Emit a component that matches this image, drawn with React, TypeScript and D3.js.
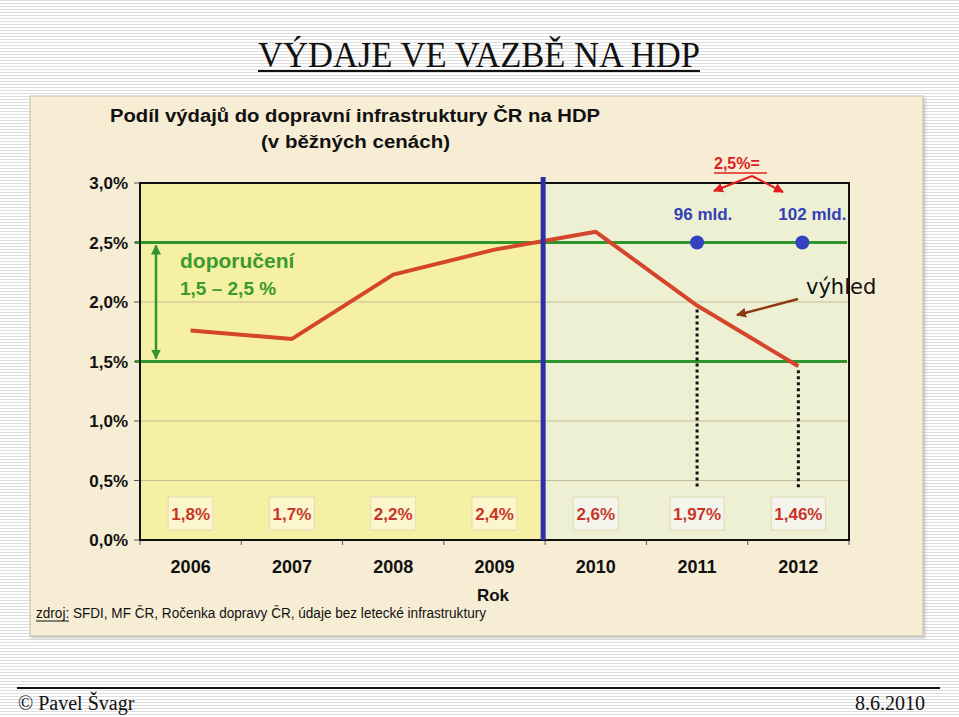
import React from 'react';
import * as d3 from 'd3';

// roky a podíl výdajů na HDP (v %)
const years = ['2006', '2007', '2008', '2009', '2010', '2011', '2012'];
const share = [1.76, 1.69, 2.23, 2.44, 2.59, 1.97, 1.46];
const shareLabels = ['1,8%', '1,7%', '2,2%', '2,4%', '2,6%', '1,97%', '1,46%'];
const yTicks = [0, 0.5, 1.0, 1.5, 2.0, 2.5, 3.0];
const yTickLabels = ['0,0%', '0,5%', '1,0%', '1,5%', '2,0%', '2,5%', '3,0%'];
const recommended = [1.5, 2.5];
const outlookYears = ['2011', '2012'];
const outlookTarget = 2.5;
const outlookLabels = ['96 mld.', '102 mld.'];

const W = 959;
const H = 717;
const SANS = 'Arial, "Liberation Sans", sans-serif';
const SERIF = '"Times New Roman", "Liberation Serif", serif';

export default function App() {
  const x = d3.scaleBand<string>().domain(years).range([140, 849]);
  const y = d3.scaleLinear().domain([0, 3]).range([540, 183]);
  const cx = (yr: string) => (x(yr) ?? 0) + x.bandwidth() / 2;

  const line = d3
    .line<number>()
    .x((_, i) => cx(years[i]))
    .y((d) => y(d));

  const split = x('2010') ?? 0;
  const [x0, x1] = x.range();

  return (
    <svg width={W} height={H} style={{ position: 'absolute', left: 0, top: 0 }}>
      <defs>
        <pattern id="stripes" width="6" height="3" patternUnits="userSpaceOnUse">
          <rect width="6" height="3" fill="#ffffff" />
          <rect width="6" height="1" fill="#dedede" />
        </pattern>
        <marker id="gArrow" viewBox="0 0 10 10" refX="9" refY="5" markerWidth="4" markerHeight="4" orient="auto-start-reverse">
          <path d="M0,0 L10,5 L0,10 z" fill="#2f962f" />
        </marker>
        <marker id="rArrow" viewBox="0 0 10 10" refX="9" refY="5" markerWidth="5" markerHeight="5" orient="auto">
          <path d="M0,0 L10,5 L0,10 z" fill="#e02020" />
        </marker>
        <marker id="bArrow" viewBox="0 0 10 10" refX="9" refY="5" markerWidth="4" markerHeight="4" orient="auto">
          <path d="M0,0 L10,5 L0,10 z" fill="#8b3a14" />
        </marker>
        <filter id="shadow" x="-2%" y="-2%" width="104%" height="104%">
          <feDropShadow dx="2" dy="2" stdDeviation="1.5" floodColor="#999" floodOpacity="0.5" />
        </filter>
      </defs>

      <rect width={W} height={H} fill="url(#stripes)" />

      {/* nadpis */}
      <text x={258} y={67} fontFamily={SERIF} fontSize={36} textLength={442} lengthAdjust="spacingAndGlyphs" fill="#111">
        VÝDAJE VE VAZBĚ NA HDP
      </text>
      <line x1={258} x2={700} y1={71} y2={71} stroke="#111" strokeWidth={2} />

      {/* panel grafu */}
      <rect x={30} y={96} width={893} height={540} fill="#f7edd4" stroke="#c9c1ae" strokeWidth={1} filter="url(#shadow)" />

      <text x={110} y={122} fontFamily={SANS} fontWeight="bold" fontSize={18} textLength={490} lengthAdjust="spacingAndGlyphs" fill="#111">
        Podíl výdajů do dopravní infrastruktury ČR na HDP
      </text>
      <text x={261} y={148} fontFamily={SANS} fontWeight="bold" fontSize={18} textLength={189} lengthAdjust="spacingAndGlyphs" fill="#111">
        (v běžných cenách)
      </text>

      {/* oblasti */}
      <rect x={x0} y={y(3)} width={split - x0} height={y(0) - y(3)} fill="#f6f0a4" />
      <rect x={split} y={y(3)} width={x1 - split} height={y(0) - y(3)} fill="#eef0d3" />

      {/* mřížka */}
      {yTicks.slice(1, -1).map((t) => (
        <line key={t} x1={x0} x2={x1} y1={y(t)} y2={y(t)} stroke="#c4bd98" strokeWidth={1} />
      ))}

      {/* osa y */}
      {yTicks.map((t, i) => (
        <g key={t}>
          <line x1={x0 - 6} x2={x0} y1={y(t)} y2={y(t)} stroke="#555" />
          <text x={128} y={y(t) + 6} textAnchor="end" fontFamily={SANS} fontWeight="bold" fontSize={17} fill="#111">
            {yTickLabels[i]}
          </text>
        </g>
      ))}

      {/* osa x */}
      {years.map((yr) => (
        <line key={yr} x1={x(yr)} x2={x(yr)} y1={y(0)} y2={y(0) + 5} stroke="#555" />
      ))}
      <line x1={x1} x2={x1} y1={y(0)} y2={y(0) + 5} stroke="#555" />
      {years.map((yr) => (
        <text key={yr} x={cx(yr)} y={573} textAnchor="middle" fontFamily={SANS} fontWeight="bold" fontSize={18} fill="#111">
          {yr}
        </text>
      ))}
      <text x={493} y={601} textAnchor="middle" fontFamily={SANS} fontWeight="bold" fontSize={17} fill="#111">
        Rok
      </text>

      {/* doporučené pásmo */}
      {recommended.map((r) => (
        <line key={r} x1={x0 - 5} x2={x1 - 2} y1={y(r)} y2={y(r)} stroke="#2f962f" strokeWidth={3} />
      ))}
      <line x1={156} x2={156} y1={y(recommended[1]) + 3} y2={y(recommended[0]) - 3} stroke="#2f962f" strokeWidth={2.5} markerStart="url(#gArrow)" markerEnd="url(#gArrow)" />
      <text x={180} y={268} fontFamily={SANS} fontWeight="bold" fontSize={21} fill="#3b9a2c">doporučení</text>
      <text x={180} y={295} fontFamily={SANS} fontWeight="bold" fontSize={19} fill="#3b9a2c">1,5 – 2,5 %</text>

      {/* svislé tečkované čáry výhledu */}
      {outlookYears.map((yr) => (
        <line key={yr} x1={cx(yr)} x2={cx(yr)} y1={y(share[years.indexOf(yr)]) + 4} y2={488} stroke="#111" strokeWidth={3} strokeDasharray="3,3" />
      ))}

      {/* datové popisky */}
      {shareLabels.map((lab, i) => {
        const w = lab.length * 9 + 9;
        return (
          <g key={lab}>
            <rect x={cx(years[i]) - w / 2} y={497} width={w} height={33} fill={x(years[i])! < split ? '#fbf6cc' : '#f4f5ec'} stroke="#e2d9b5" strokeWidth={1} />
            <text x={cx(years[i])} y={520} textAnchor="middle" fontFamily={SANS} fontWeight={600} fontSize={17} fill="#c8352a">
              {lab}
            </text>
          </g>
        );
      })}

      {/* řada */}
      <path d={line(share) ?? ''} fill="none" stroke="#d4452a" strokeWidth={4} strokeLinejoin="round" />

      {/* rámeček plochy */}
      <rect x={x0} y={y(3)} width={x1 - x0} height={y(0) - y(3)} fill="none" stroke="#111" strokeWidth={2} />

      {/* hranice skutečnost / výhled */}
      <line x1={split - 2} x2={split - 2} y1={177} y2={y(0)} stroke="#2d2fa6" strokeWidth={5} />

      {/* cíl 2,5 % */}
      {outlookYears.map((yr, i) => (
        <g key={yr}>
          <circle cx={cx(yr) + i * 4} cy={y(outlookTarget)} r={7} fill="#3343c0" />
          <text x={cx(yr) + 6 + i * 8} y={220} textAnchor="middle" fontFamily={SANS} fontWeight="bold" fontSize={17} fill="#3340b8">
            {outlookLabels[i]}
          </text>
        </g>
      ))}
      <text x={714} y={169} fontFamily={SANS} fontWeight="bold" fontSize={16} fill="#e02020">2,5%=</text>
      <line x1={714} x2={767} y1={173} y2={173} stroke="#e02020" strokeWidth={1.5} />
      <line x1={752} y1={176} x2={714} y2={191} stroke="#e02020" strokeWidth={2} markerEnd="url(#rArrow)" />
      <line x1={752} y1={176} x2={783} y2={192} stroke="#e02020" strokeWidth={2} markerEnd="url(#rArrow)" />

      {/* výhled */}
      <text x={806} y={294} fontFamily='"DejaVu Sans", Verdana, sans-serif' fontSize={21} fill="#111">výhled</text>
      <line x1={798} y1={299} x2={737} y2={315} stroke="#8b3a14" strokeWidth={2.5} markerEnd="url(#bArrow)" />

      {/* zdroj */}
      <text x={36} y={618} fontFamily='"Liberation Sans Narrow", "Arial Narrow", Arial, sans-serif' fontSize={14} textLength={450} lengthAdjust="spacingAndGlyphs" fill="#111">
        zdroj: SFDI, MF ČR, Ročenka dopravy ČR, údaje bez letecké infrastruktury
      </text>
      <line x1={36} x2={69} y1={621} y2={621} stroke="#111" strokeWidth={1} />

      {/* zápatí */}
      <line x1={17} x2={940} y1={688} y2={688} stroke="#111" strokeWidth={2} />
      <text x={18} y={710} fontFamily={SERIF} fontSize={20} fill="#111">© Pavel Švagr</text>
      <text x={925} y={710} textAnchor="end" fontFamily={SERIF} fontSize={20} fill="#111">8.6.2010</text>
    </svg>
  );
}
